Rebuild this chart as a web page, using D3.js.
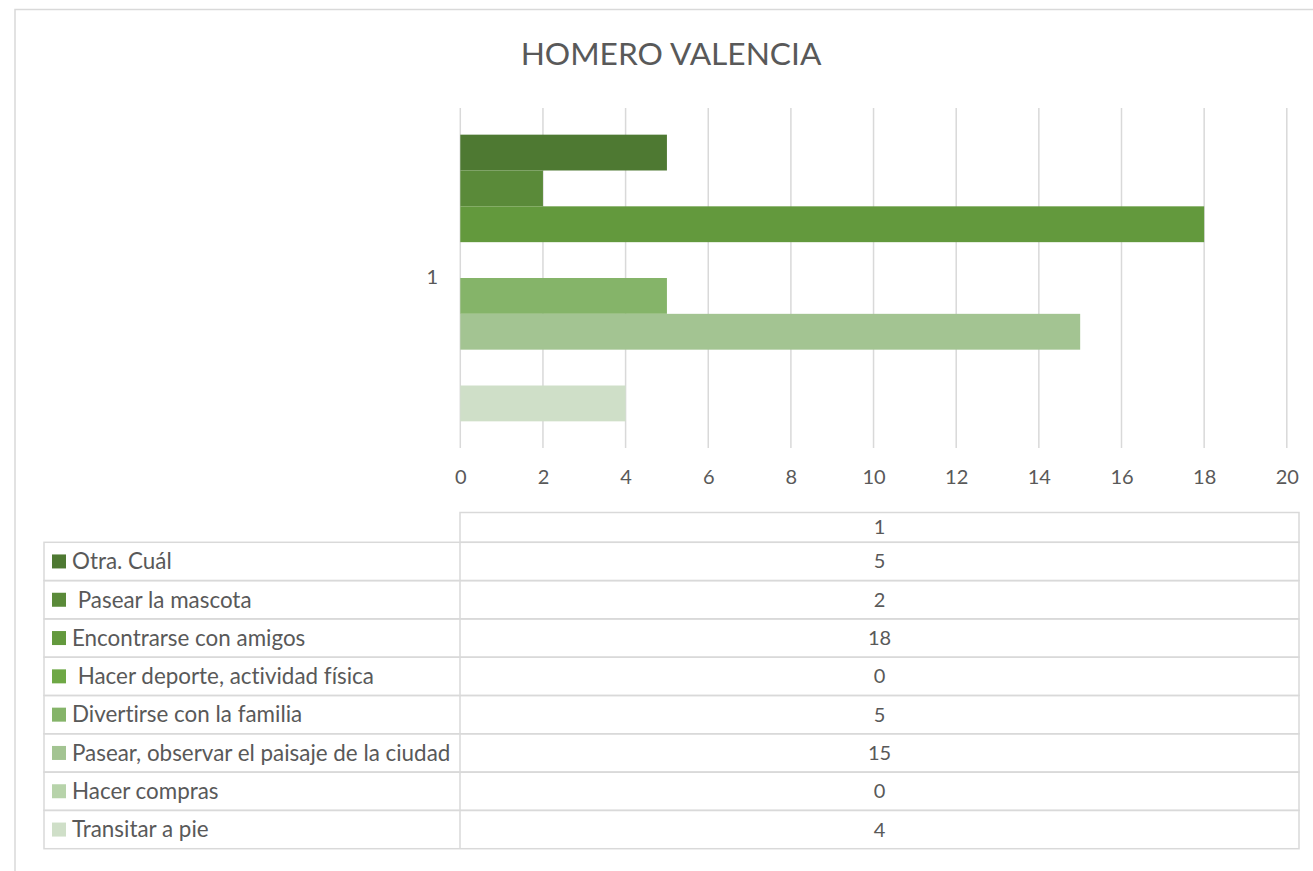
<!DOCTYPE html>
<html>
<head>
<meta charset="utf-8">
<script src="https://cdn.jsdelivr.net/npm/d3@7/dist/d3.min.js"></script>
<style>
  html, body { margin: 0; padding: 0; background: #ffffff; }
  svg { display: block; font-family: Lato, "Open Sans", sans-serif; font-variant-ligatures: none; font-feature-settings: "liga" 0, "clig" 0; }
  text { fill: #595959; }
</style>
</head>
<body>
<svg id="chart" width="1313" height="871"></svg>
<script>
// Chart data
const title = "HOMERO VALENCIA";
const categories = ["1"];
const seriesNames = [
  "Otra. Cuál",
  " Pasear la mascota",
  "Encontrarse con amigos",
  " Hacer deporte, actividad física",
  "Divertirse con la familia",
  "Pasear, observar el paisaje de la ciudad",
  "Hacer compras",
  "Transitar a pie"
];
const seriesValues = [5, 2, 18, 0, 5, 15, 0, 4];
const seriesColors = ["#4e7932", "#5a8a39", "#63993d", "#6ea845", "#85b469", "#a3c492", "#b7d3aa", "#cfdfc8"];
const xTicks = [0, 2, 4, 6, 8, 10, 12, 14, 16, 18, 20];

const svg = d3.select("#chart");
const grid = "#d9d9d9";

// Outer frame
svg.append("rect")
  .attr("x", 15).attr("y", 9.5)
  .attr("width", 1320).attr("height", 880)
  .attr("fill", "none").attr("stroke", grid).attr("stroke-width", 1.5);

// Title
svg.append("text")
  .attr("x", 671).attr("y", 65)
  .attr("text-anchor", "middle")
  .style("font-size", "31.7px")
  .text(title);

// Scales
const x = d3.scaleLinear().domain([0, 20]).range([460.3, 1286.8]);
const yCat = d3.scaleBand().domain(categories).range([108, 448]).paddingInner(0).paddingOuter(0.093);
const ySer = d3.scaleBand().domain(seriesNames).range([0, yCat.bandwidth()]).padding(0);

// Vertical gridlines
svg.append("g")
  .selectAll("line")
  .data(xTicks)
  .join("line")
  .attr("x1", d => x(d)).attr("x2", d => x(d))
  .attr("y1", 108).attr("y2", 448)
  .attr("stroke", grid).attr("stroke-width", 1.5);

// Bars
const rows = categories.map((c, ci) => seriesNames.map((s, si) => ({ cat: c, name: s, value: seriesValues[si], color: seriesColors[si] })));
svg.append("g")
  .selectAll("g")
  .data(rows)
  .join("g")
  .attr("transform", (d, i) => `translate(0,${yCat(categories[i])})`)
  .selectAll("rect")
  .data(d => d)
  .join("rect")
  .attr("x", x(0))
  .attr("y", d => ySer(d.name))
  .attr("width", d => x(d.value) - x(0))
  .attr("height", ySer.bandwidth())
  .attr("fill", d => d.color);

// X axis tick labels
const xAxis = d3.axisBottom(x).tickValues(xTicks).tickSize(0).tickPadding(0);
const gx = svg.append("g").attr("transform", "translate(0,470)").call(xAxis);
gx.select(".domain").remove();
gx.selectAll("text")
  .attr("dy", "0.71em")
  .style("font-size", "20px")
  .style("font-family", "Lato, 'Open Sans', sans-serif")
  .attr("fill", "#595959");

// Category axis label
const yAxis = d3.axisLeft(yCat).tickSize(0).tickPadding(0);
const gy = svg.append("g").attr("transform", "translate(438,0)").call(yAxis);
gy.select(".domain").remove();
gy.selectAll("text")
  .style("font-size", "20px")
  .style("font-family", "Lato, 'Open Sans', sans-serif")
  .attr("fill", "#595959");

// Data table
const tLeft = 44, tDiv = 460, tRight = 1299;
const tTop = 512.5, headBottom = 542.3, rowH = 38.3;
const table = svg.append("g");

// Header cell
table.append("rect")
  .attr("x", tDiv).attr("y", tTop)
  .attr("width", tRight - tDiv).attr("height", headBottom - tTop)
  .attr("fill", "none").attr("stroke", grid).attr("stroke-width", 1.5);
table.append("text")
  .attr("x", (tDiv + tRight) / 2).attr("y", (tTop + headBottom) / 2)
  .attr("dy", "0.35em").attr("text-anchor", "middle")
  .style("font-size", "20px")
  .text(categories[0]);

// Body rows
const row = table.selectAll("g.row")
  .data(seriesNames.map((s, i) => ({ name: s, value: seriesValues[i], color: seriesColors[i], i })))
  .join("g")
  .attr("class", "row")
  .attr("transform", d => `translate(0,${headBottom + d.i * rowH})`);

row.append("rect")
  .attr("x", tLeft).attr("y", 0)
  .attr("width", tRight - tLeft).attr("height", rowH)
  .attr("fill", "none").attr("stroke", grid).attr("stroke-width", 1.5);
row.append("line")
  .attr("x1", tDiv).attr("x2", tDiv).attr("y1", 0).attr("y2", rowH)
  .attr("stroke", grid).attr("stroke-width", 1.5);
row.append("rect")
  .attr("x", 52).attr("y", rowH / 2 - 7)
  .attr("width", 14).attr("height", 14)
  .attr("fill", d => d.color);
row.append("text")
  .attr("x", 72).attr("y", rowH / 2).attr("dy", "0.35em")
  .attr("xml:space", "preserve")
  .style("white-space", "pre")
  .style("font-size", "22.4px")
  .text(d => d.name);
row.append("text")
  .attr("x", (tDiv + tRight) / 2).attr("y", rowH / 2).attr("dy", "0.35em")
  .attr("text-anchor", "middle")
  .style("font-size", "20px")
  .text(d => d.value);
</script>
</body>
</html>
